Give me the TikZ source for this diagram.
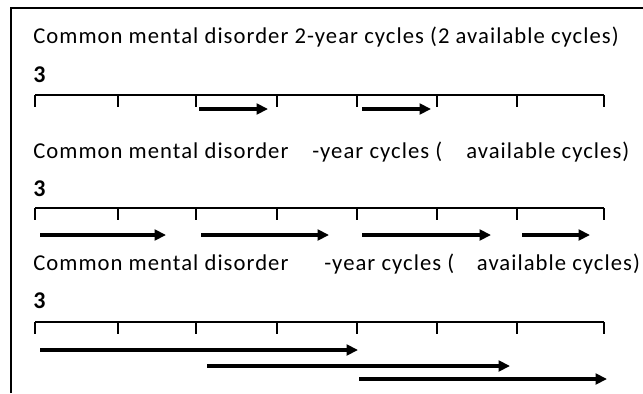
\documentclass[tikz,border=0pt]{standalone}
\usepackage{fontspec}
\setmainfont{Carlito}[LetterSpace=4.6]
\usetikzlibrary{arrows.meta}

\tikzset{
  heading/.style={anchor=base west,inner sep=0pt,font=\fontsize{17pt}{19pt}\selectfont},
  count/.style={anchor=base west,inner sep=0pt,font=\fontsize{18pt}{20pt}\selectfont\bfseries},
  scale line/.style={line width=0.8pt},
  cyc/.style={line width=2.7pt,-{Triangle[length=8.5pt,width=8pt]}}
}

\begin{document}
\begin{tikzpicture}[x=0.75pt,y=-0.75pt]
    \useasboundingbox (0,0) rectangle (643,393);
    \draw[line width=1.1pt] (11,393) -- (11,8) -- (643,8);

    % 2-year cycles
    \node[heading] (head1) at (33,43) {Common mental disorder 2-year cycles (2 available cycles)};
    \node[count] (three1) at (33,82) {3};
    \draw[scale line] (35,95) -- (604,95);
    \foreach \x [count=\i] in {35,118,196,277,357,437,517,604}
        \draw[scale line] (\x,95) coordinate (p\i) -- ++(0,12);
    \coordinate (a1) at (199,109); \coordinate (b1) at (268,109);
    \coordinate (a2) at (362,109); \coordinate (b2) at (431,109);
    \draw[cyc] (a1) -- (b1);
    \draw[cyc] (a2) -- (b2);

    % second panel
    \node[heading] (head2) at (33,158) {Common mental disorder\hspace{18pt}-year cycles (\hspace{18pt}available cycles)};
    \node[count] (three2) at (33,196) {3};
    \draw[scale line] (35,208) -- (604,208);
    \foreach \x [count=\i] in {35,118,196,277,357,437,517,604}
        \draw[scale line] (\x,208) coordinate (q\i) -- ++(0,12);
    \foreach \s/\e [count=\i] in {40/166,201/329,362/491,522/590} {
        \coordinate (c\i) at (\s,235);
        \coordinate (d\i) at (\e,235);
        \draw[cyc] (c\i) -- (d\i);
    }

    % third panel
    \node[heading] (head3) at (33,270) {Common mental disorder\hspace{27pt}-year cycles (\hspace{17pt}available cycles)};
    \node[count] (three3) at (33,308) {3};
    \draw[scale line] (35,322) -- (604,322);
    \foreach \x [count=\i] in {35,118,196,277,357,437,517,604}
        \draw[scale line] (\x,322) coordinate (r\i) -- ++(0,12);
    \coordinate (e1) at (40,350);  \coordinate (f1) at (358,350);
    \coordinate (e2) at (207,366); \coordinate (f2) at (510,366);
    \coordinate (e3) at (359,379); \coordinate (f3) at (607,379);
    \draw[cyc] (e1) -- (f1);
    \draw[cyc] (e2) -- (f2);
    \draw[cyc] (e3) -- (f3);
\end{tikzpicture}
\end{document}
